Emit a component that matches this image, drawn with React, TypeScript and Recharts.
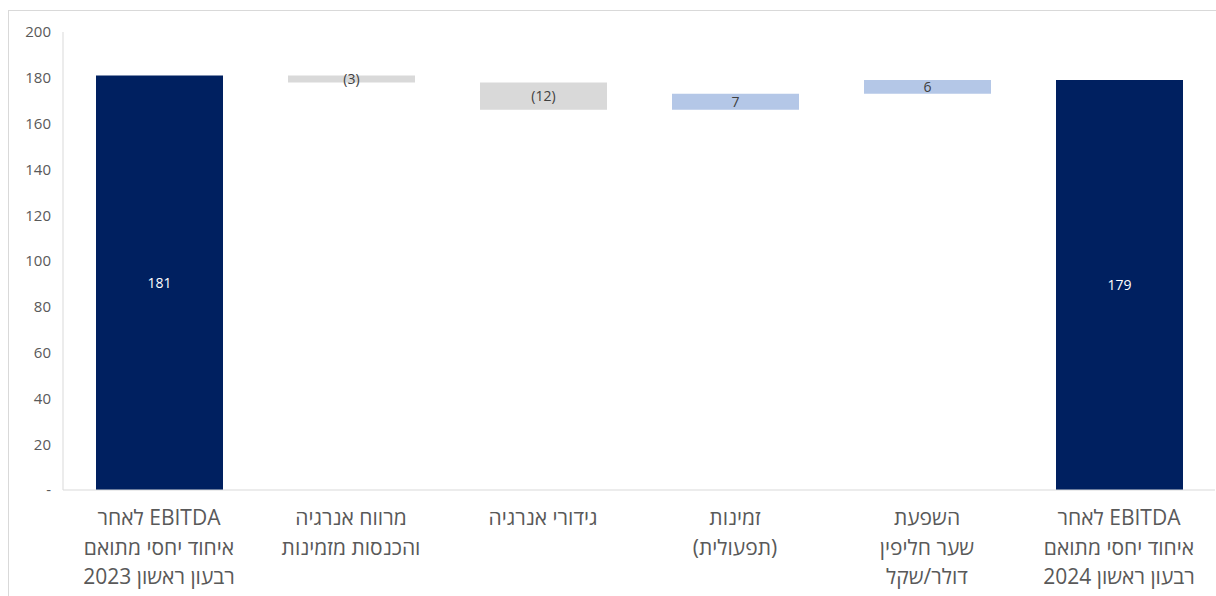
import React from 'react'
import { Bar, BarChart, Cell, LabelList, XAxis, YAxis } from 'recharts'

// categories, one line of the axis label per entry
const categories: string[][] = [
  ['EBITDA לאחר', 'איחוד יחסי מתואם', 'רבעון ראשון 2023'],
  ['מרווח אנרגיה', 'והכנסות מזמינות'],
  ['גידורי אנרגיה'],
  ['זמינות', '(תפעולית)'],
  ['השפעת', 'שער חליפין', 'דולר/שקל'],
  ['EBITDA לאחר', 'איחוד יחסי מתואם', 'רבעון ראשון 2024'],
]
const values = [181, -3, -12, 7, 6, 179]
const isTotal = [true, false, false, false, false, true]
const yTicks = [0, 20, 40, 60, 80, 100, 120, 140, 160, 180, 200]

const NAVY = '#002060'
const GRAY = '#d9d9d9'
const BLUE = '#b4c7e7'

// waterfall: invisible base + visible step
let running = 0
const data = categories.map((lines, i) => {
  const v = values[i]
  let base = 0
  if (isTotal[i]) {
    running = v
  } else {
    base = v < 0 ? running + v : running
    running = running + v
  }
  return { name: lines.join('|'), base, step: Math.abs(v), raw: v, idx: i }
})

function XTick(props: any) {
  const { x, y, payload } = props
  const lines = String(payload.value).split('|')
  return (
    <text x={x} y={y} textAnchor="middle" fill="#595959" fontSize={21} style={{ direction: 'rtl' }}>
      {lines.map((l, i) => (
        <tspan key={i} x={x} dy={i === 0 ? 35 : 29.5}>
          {l}
        </tspan>
      ))}
    </text>
  )
}

function StepLabel(props: any) {
  const { x, y, width, height, index } = props
  const v = values[index]
  const txt = v < 0 ? `(${Math.abs(v)})` : String(v)
  return (
    <text
      x={x + width / 2}
      y={y + height / 2}
      dy="0.35em"
      textAnchor="middle"
      fontSize={14}
      fill={isTotal[index] ? '#ffffff' : '#404040'}
    >
      {txt}
    </text>
  )
}

export default function App() {
  return (
    <div
      style={{
        position: 'absolute',
        left: 8,
        top: 10,
        width: 1230,
        height: 620,
        border: '1px solid #d9d9d9',
        background: '#fff',
        fontFamily: "'Open Sans', 'Liberation Sans', 'DejaVu Sans', sans-serif",
      }}
    >
      <BarChart
        width={1220}
        height={600}
        data={data}
        margin={{ top: 21, right: 14, left: 0, bottom: 0 }}
        barSize={127}
      >
        <XAxis
          dataKey="name"
          axisLine={{ stroke: '#d9d9d9' }}
          tickLine={false}
          tickSize={0}
          tickMargin={0}
          height={121}
          interval={0}
          tick={<XTick />}
        />
        <YAxis
          domain={[0, 200]}
          ticks={yTicks}
          width={54}
          axisLine={{ stroke: '#d9d9d9' }}
          tickLine={false}
          tickSize={0}
          tickMargin={12}
          interval={0}
          tick={{ fill: '#595959', fontSize: 15 }}
          tickFormatter={(v: number) => (v === 0 ? '-' : String(v))}
        />
        <Bar dataKey="base" stackId="w" fill="transparent" isAnimationActive={false} />
        <Bar dataKey="step" stackId="w" isAnimationActive={false}>
          {data.map((d, i) => (
            <Cell key={i} fill={isTotal[i] ? NAVY : d.raw < 0 ? GRAY : BLUE} />
          ))}
          <LabelList dataKey="step" content={<StepLabel />} />
        </Bar>
      </BarChart>
    </div>
  )
}
